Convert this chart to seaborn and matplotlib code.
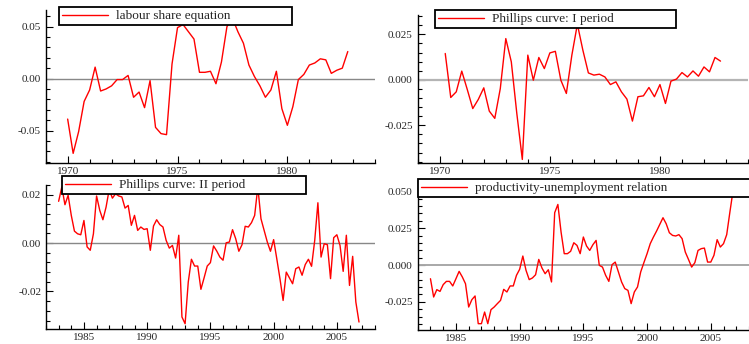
import numpy as np
import pandas as pd
import seaborn as sns
import matplotlib.pyplot as plt
from matplotlib.ticker import MultipleLocator, FormatStrFormatter

# quarterly residuals
labour_start = 1970.0
labour_share = [-0.039, -0.072, -0.051, -0.022, -0.011, 0.011, -0.012, -0.010, -0.007, -0.001,
                -0.001, 0.003, -0.018, -0.013, -0.028, -0.002, -0.047, -0.053, -0.054, 0.014,
                0.049, 0.052, 0.045, 0.038, 0.006, 0.006, 0.007, -0.005, 0.016, 0.050,
                0.058, 0.045, 0.034, 0.013, 0.002, -0.007, -0.018, -0.011, 0.007, -0.029,
                -0.045, -0.027, -0.001, 0.004, 0.013, 0.015, 0.019, 0.018, 0.005, 0.008,
                0.010, 0.026]

phillips1_start = 1970.25
phillips1 = [0.0145, -0.0097, -0.0066, 0.0048, -0.0053, -0.0158, -0.0108, -0.0044, -0.0172, -0.0212,
             -0.0048, 0.0227, 0.0099, -0.0185, -0.0438, 0.0136, -0.0002, 0.0123, 0.0062, 0.0148,
             0.0157, -0.0002, -0.0075, 0.0136, 0.0306, 0.0163, 0.0038, 0.0026, 0.0031, 0.0016,
             -0.0026, -0.0011, -0.0066, -0.0106, -0.0227, -0.0093, -0.0088, -0.0042, -0.0093, -0.0026,
             -0.0130, -0.0007, 0.0004, 0.0040, 0.0016, 0.0049, 0.0020, 0.0071, 0.0044, 0.0123,
             0.0103]

phillips2_start = 1983.0
phillips2 = [0.0172, 0.0231, 0.0158, 0.0197, 0.0114, 0.0049, 0.0038, 0.0034, 0.0093, -0.0016,
             -0.0030, 0.0038, 0.0194, 0.0135, 0.0096, 0.0148, 0.0221, 0.0185, 0.0203, 0.0194,
             0.0190, 0.0144, 0.0155, 0.0073, 0.0114, 0.0052, 0.0066, 0.0056, 0.0059, -0.0030,
             0.0070, 0.0096, 0.0076, 0.0066, 0.0011, -0.0021, -0.0010, -0.0062, 0.0032, -0.0305,
             -0.0333, -0.0161, -0.0067, -0.0095, -0.0095, -0.0191, -0.0144, -0.0095, -0.0081, -0.0012,
             -0.0033, -0.0058, -0.0071, 0.0001, 0.0004, 0.0055, 0.0018, -0.0034, -0.0007, 0.0069,
             0.0066, 0.0084, 0.0114, 0.0231, 0.0100, 0.0052, 0.0004, -0.0034, 0.0014, -0.0065,
             -0.0147, -0.0237, -0.0120, -0.0144, -0.0168, -0.0106, -0.0099, -0.0133, -0.0089, -0.0067,
             -0.0096, 0.0011, 0.0166, -0.0058, -0.0003, -0.0007, -0.0147, 0.0022, 0.0034, -0.0010,
             -0.0117, 0.0032, -0.0175, -0.0055, -0.0243, -0.0326]

product_start = 1983.0
productivity = [-0.0093, -0.0217, -0.0167, -0.0179, -0.0133, -0.0111, -0.0111, -0.0142, -0.0093, -0.0043,
                -0.0081, -0.0127, -0.0285, -0.0235, -0.0210, -0.0398, -0.0398, -0.0319, -0.0398, -0.0303,
                -0.0285, -0.0262, -0.0240, -0.0165, -0.0183, -0.0142, -0.0142, -0.0070, -0.0029, 0.0061,
                -0.0036, -0.0099, -0.0088, -0.0066, 0.0038, -0.0020, -0.0059, -0.0032, -0.0115, 0.0355,
                0.0411, 0.0224, 0.0077, 0.0077, 0.0093, 0.0151, 0.0133, 0.0077, 0.0190, 0.0129,
                0.0099, 0.0138, 0.0167, -0.0002, -0.0014, -0.0070, -0.0111, 0.0002, 0.0020, -0.0047,
                -0.0115, -0.0160, -0.0172, -0.0262, -0.0183, -0.0149, -0.0047, 0.0016, 0.0077, 0.0145,
                0.0190, 0.0231, 0.0276, 0.0321, 0.0280, 0.0219, 0.0201, 0.0197, 0.0206, 0.0179,
                0.0088, 0.0038, -0.0014, 0.0016, 0.0099, 0.0111, 0.0115, 0.0020, 0.0020, 0.0066,
                0.0172, 0.0122, 0.0145, 0.0206, 0.0359, 0.0506]

titles = ['labour share equation', 'Phillips curve: I period',
          'Phillips curve: II period', 'productivity-unemployment relation']

sns.set_style('ticks')
plt.rcParams['font.family'] = ['Liberation Serif', 'DejaVu Serif']

fig = plt.figure(figsize=(7.49, 3.44), dpi=100)

panels = [
    # series, start, axes rect, xlim, ylim, y major, y minor, fmt, zero line colour/width, legend box
    (labour_share, labour_start, [0.061, 0.527, 0.440, 0.444], (1969, 1984), (-0.081, 0.066),
     0.05, 0.01, '%.2f', '#888888', 1.0, (59, 7, 233)),
    (phillips1, phillips1_start, [0.5577, 0.527, 0.441, 0.429], (1969, 1984), (-0.0456, 0.0356),
     0.025, 0.005, '%.3f', '#b4b4b4', 1.6, (435, 10, 241)),
    (phillips2, phillips2_start, [0.0614, 0.0427, 0.439, 0.420], (1982, 2008), (-0.0356, 0.024),
     0.02, 0.004, '%.2f', '#888888', 1.0, (62, 176, 244)),
    (productivity, product_start, [0.5577, 0.0398, 0.4423, 0.437], (1982, 2008), (-0.0443, 0.0577),
     0.025, 0.005, '%.3f', '#a8a8a8', 1.4, (418, 179, 345)),
]

W, H = 749.0, 344.0
for title, (vals, start, rect, xlim, ylim, ymaj, ymin, fmt, zc, zw, box) in zip(titles, panels):
    ax = fig.add_axes(rect)
    df = pd.DataFrame({'date': start + np.arange(len(vals)) / 4.0, 'resid': vals})
    ax.axhline(0, color=zc, lw=zw, zorder=1)
    sns.lineplot(data=df, x='date', y='resid', ax=ax, color='red', lw=1.0, label=title, zorder=2)
    ax.set_xlim(*xlim)
    ax.set_ylim(*ylim)
    ax.set_xlabel('')
    ax.set_ylabel('')
    ax.xaxis.set_major_locator(MultipleLocator(5))
    ax.xaxis.set_minor_locator(MultipleLocator(1))
    ax.yaxis.set_major_locator(MultipleLocator(ymaj))
    ax.yaxis.set_minor_locator(MultipleLocator(ymin))
    ax.yaxis.set_major_formatter(FormatStrFormatter(fmt))
    ax.tick_params(which='both', direction='in', labelsize=8, width=0.8, color='black')
    ax.tick_params(which='major', length=5)
    ax.tick_params(which='minor', length=3)
    ax.tick_params(axis='x', pad=3)
    for s in ['top', 'right']:
        ax.spines[s].set_visible(False)
    for s in ['left', 'bottom']:
        ax.spines[s].set_linewidth(1.0)
        ax.spines[s].set_color('black')
    # legend box placed in figure pixels, stretched like the original
    x0, y0, w = box
    leg = ax.legend(loc='upper left', bbox_to_anchor=(x0 / W, 1 - y0 / H, w / W, 0.001),
                    bbox_transform=fig.transFigure, mode='expand', borderaxespad=0,
                    fancybox=False, framealpha=1, edgecolor='black', fontsize=9.5,
                    handlelength=3.5, borderpad=0.25, handletextpad=0.6)
    leg.get_frame().set_linewidth(1.3)

fig.savefig('out.png', dpi=100)
